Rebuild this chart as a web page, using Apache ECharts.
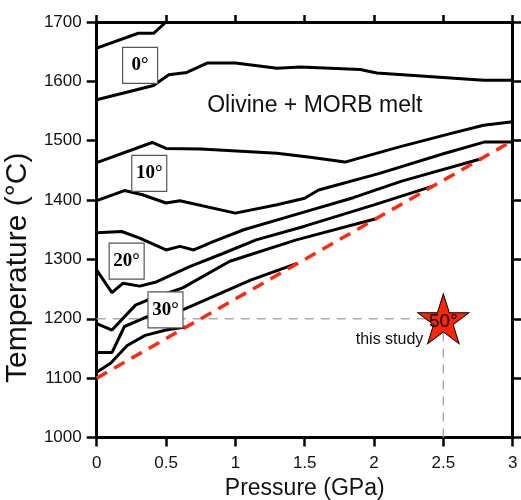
<!DOCTYPE html>
<html><head><meta charset="utf-8">
<script src="https://cdn.jsdelivr.net/npm/echarts/dist/echarts.min.js"></script>
<style>html,body{margin:0;padding:0;background:#fff}#c{width:521px;height:500px}</style>
</head><body><div id="c"></div>
<script>
// ---- data (pressure GPa, temperature °C) ----
const xTicks = [0, 0.5, 1, 1.5, 2, 2.5, 3];
const yTicks = [1000, 1100, 1200, 1300, 1400, 1500, 1600, 1700];
const iso0Upper  = [[0,1656],[0.30,1681],[0.41,1681],[0.50,1700]];
const iso0Lower  = [[0,1569],[0.41,1593],[0.52,1611],[0.65,1615],[0.80,1631],[1.00,1631],[1.30,1622],[1.47,1624],[1.90,1620],[2.02,1614],[2.79,1602],[3.00,1602]];
const iso10Upper = [[0,1463],[0.40,1497],[0.50,1487],[0.75,1486],[1.30,1479],[1.54,1472],[1.79,1464],[2.19,1490],[2.55,1512],[2.79,1526],[3.00,1532]];
const iso10Lower = [[0,1399],[0.20,1416],[0.33,1409],[0.50,1395],[0.60,1399],[1.00,1378],[1.30,1392],[1.50,1403],[1.60,1417],[2.04,1445],[2.50,1478],[2.80,1498],[3.00,1498]];
const iso20Upper = [[0,1345],[0.18,1347],[0.31,1336],[0.50,1316],[0.60,1322],[0.70,1316],[0.84,1330],[1.06,1350],[1.47,1378],[1.85,1404],[2.20,1432],[2.78,1470]];
const iso20Lower = [[0,1282],[0.11,1244],[0.19,1260],[0.31,1255],[0.43,1262],[0.67,1288],[0.91,1310],[1.15,1333],[1.50,1356],[2.00,1392],[2.43,1424]];
const iso30Upper = [[0,1192],[0.11,1181],[0.28,1223],[0.37,1232],[0.62,1252],[0.96,1297],[1.44,1333],[2.02,1369]];
const iso30Lower = [[0,1143],[0.11,1143],[0.20,1187],[0.37,1204],[0.62,1215],[1.11,1265],[1.44,1293]];
const isoLowest  = [[0,1110],[0.10,1125],[0.22,1155],[0.35,1172],[0.50,1181],[0.64,1186]];
const solidusP = [0, 3];
const solidusT = [1100, 1500];
const isoLabelText = ['0°', '10°', '20°', '30°'];
const isoLabelP = [0.313, 0.379, 0.216, 0.496];
const isoLabelT = [1627, 1445, 1297, 1215];
const fieldLabel = 'Olivine + MORB melt';
const fieldP = 1.573, fieldT = 1559;
const studyP = 2.5, studyT = 1200;
const studyLabel = '50°';
const studyText = 'this study';

// ---- chart ----
const SANS = 'Liberation Sans, Arial, sans-serif';
const SERIF = 'Liberation Serif, Times New Roman, serif';
const chart = echarts.init(document.getElementById('c'), null, {renderer: 'canvas'});
const blackLine = d => ({type: 'line', data: d, symbol: 'none', silent: true, z: 3,
  lineStyle: {color: '#000', width: 3}});
const axisLine = {show: true, onZero: false, lineStyle: {color: '#000', width: 3}};
const starPath = 'path://M50,0 L61.2,34.5 L97.6,34.5 L68.2,55.9 L79.4,90.5 L50,69.1 L20.6,90.5 L31.8,55.9 L2.4,34.5 L38.8,34.5 Z';
const plainLabel = {textBorderWidth: 0, textShadowBlur: 0, opacity: 1};

chart.setOption({
  animation: false,
  grid: {left: 96.7, right: 8.3, top: 22, bottom: 62.5, containLabel: false, outerBoundsMode: 'none'},
  xAxis: [
    {type: 'value', min: xTicks[0], max: xTicks[xTicks.length - 1], interval: 0.5, position: 'bottom',
     axisLine: axisLine, axisTick: {show: true, inside: false, length: 9, lineStyle: {color: '#000', width: 2.5}},
     axisLabel: {fontSize: 17, color: '#111', fontFamily: SANS, margin: 17, formatter: v => String(v)},
     splitLine: {show: false},
     name: 'Pressure (GPa)', nameLocation: 'middle', nameGap: 40,
     nameTextStyle: {fontSize: 23, color: '#111', fontFamily: SANS}},
    {type: 'value', min: xTicks[0], max: xTicks[xTicks.length - 1], interval: 0.5, position: 'top',
     axisLine: axisLine, axisTick: {show: true, inside: false, length: 7, lineStyle: {color: '#000', width: 2.5}},
     axisLabel: {show: false}, splitLine: {show: false}}
  ],
  yAxis: [
    {type: 'value', min: yTicks[0], max: yTicks[yTicks.length - 1], interval: 100, position: 'left',
     axisLine: axisLine, axisTick: {show: true, inside: false, length: 10, lineStyle: {color: '#000', width: 2.5}},
     axisLabel: {fontSize: 17, color: '#111', fontFamily: SANS, margin: 15, formatter: v => String(v)},
     splitLine: {show: false},
     name: 'Temperature (°C)', nameLocation: 'middle', nameGap: 53, nameRotate: 90,
     nameTextStyle: {fontSize: 30, color: '#111', fontFamily: SANS, padding: [0, 76, 0, 0]}},
    {type: 'value', min: yTicks[0], max: yTicks[yTicks.length - 1], interval: 100, position: 'right',
     axisLine: axisLine, axisTick: {show: true, inside: false, length: 9, lineStyle: {color: '#000', width: 2.5}},
     axisLabel: {show: false}, splitLine: {show: false}}
  ],
  series: [
    {type: 'line', data: [[0, studyT], [studyP, studyT]], symbol: 'none', silent: true, z: 1,
     lineStyle: {color: '#aaa', width: 1.5, type: [9, 7]}},
    {type: 'line', data: [[studyP, yTicks[0]], [studyP, studyT]], symbol: 'none', silent: true, z: 1,
     lineStyle: {color: '#aaa', width: 1.5, type: [9, 7]}},
    blackLine(iso0Upper), blackLine(iso0Lower), blackLine(iso10Upper), blackLine(iso10Lower),
    blackLine(iso20Upper), blackLine(iso20Lower), blackLine(iso30Upper), blackLine(iso30Lower),
    blackLine(isoLowest),
    {type: 'line', data: solidusP.map((p, i) => [p, solidusT[i]]), symbol: 'none', silent: true, z: 4,
     lineStyle: {color: '#ff2b14', width: 3.5, type: [12, 8]}},
    {type: 'scatter', z: 6, silent: true,
     data: isoLabelText.map((t, i) => ({value: [isoLabelP[i], isoLabelT[i]], name: t})),
     symbol: 'rect', symbolSize: [35, 36],
     itemStyle: {color: '#fff', borderColor: '#555', borderWidth: 1.2, opacity: 1},
     label: Object.assign({show: true, position: 'inside', formatter: p => p.name,
       fontFamily: SERIF, fontWeight: 'bold', fontSize: 19, color: '#000'}, plainLabel)},
    {type: 'scatter', z: 6, silent: true, data: [{value: [fieldP, fieldT], name: fieldLabel}],
     symbolSize: 1, itemStyle: {color: 'rgba(0,0,0,0)', opacity: 1},
     label: Object.assign({show: true, position: 'inside', formatter: p => p.name, fontFamily: SANS, fontSize: 23, color: '#111'}, plainLabel)},
    {type: 'scatter', z: 7, silent: true, data: [{value: [studyP, studyT], name: studyLabel}],
     symbol: starPath, symbolSize: [51, 50],
     itemStyle: {color: '#ff2600', borderColor: '#000', borderWidth: 1, opacity: 1},
     label: Object.assign({show: true, position: 'inside', offset: [0, 3], formatter: p => p.name, fontFamily: SANS, fontSize: 19, color: '#000'}, plainLabel)},
    {type: 'scatter', z: 7, silent: true, data: [{value: [studyP, studyT], name: studyText}],
     symbolSize: 1, itemStyle: {color: 'rgba(0,0,0,0)', opacity: 1},
     label: Object.assign({show: true, position: 'inside', align: 'right', offset: [-20, 21], formatter: p => p.name,
       fontFamily: SANS, fontSize: 16, color: '#111'}, plainLabel)}
  ]
});
</script></body></html>
